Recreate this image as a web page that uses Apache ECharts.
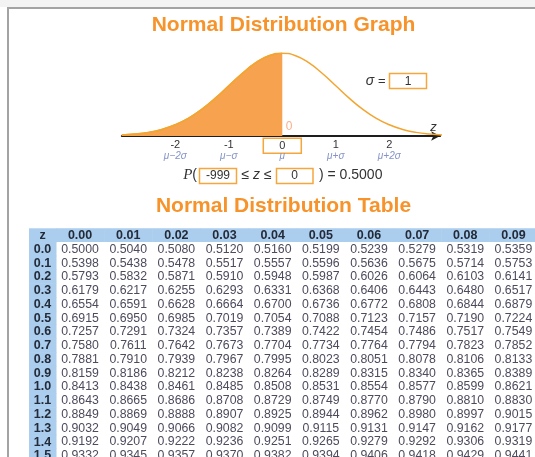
<!DOCTYPE html>
<html>
<head>
<meta charset="utf-8">
<script src="https://cdn.jsdelivr.net/npm/echarts@6/dist/echarts.min.js"></script>
<style>
  html, body { margin: 0; padding: 0; background: #fff; overflow: hidden; }
  #chart { width: 540px; height: 470px; }
</style>
</head>
<body>
<div id="chart"></div>
<script>
// curve of the graph
const curveZ = [-3, -2.75, -2.5, -2.25, -2, -1.75, -1.5, -1.25, -1, -0.75, -0.5, -0.25, 0,
  0.25, 0.5, 0.75, 1, 1.25, 1.5, 1.75, 2, 2.25, 2.5, 2.75, 3];
const curveDensity = [0.0044, 0.0091, 0.0175, 0.0317, 0.054, 0.0863, 0.1295, 0.1826, 0.242, 0.3011, 0.3521, 0.3867, 0.3989,
  0.3867, 0.3521, 0.3011, 0.242, 0.1826, 0.1295, 0.0863, 0.054, 0.0317, 0.0175, 0.0091, 0.0044];

const tickValues = [-2, -1, 0, 1, 2];
const tickLabels = ['-2', '-1', '0', '1', '2'];
const sigmaLabels = ['μ−2σ', 'μ−σ', 'μ', 'μ+σ', 'μ+2σ'];

const sigmaValue = '1';
const lowerBound = '-999';
const upperBound = '0';
const probability = '0.5000';

// table
const colLabels = ['0.00', '0.01', '0.02', '0.03', '0.04', '0.05', '0.06', '0.07', '0.08', '0.09'];
const rowLabels = ['0.0', '0.1', '0.2', '0.3', '0.4', '0.5', '0.6', '0.7', '0.8', '0.9',
  '1.0', '1.1', '1.2', '1.3', '1.4', '1.5'];
const cdfRows = [
  ['0.5000', '0.5040', '0.5080', '0.5120', '0.5160', '0.5199', '0.5239', '0.5279', '0.5319', '0.5359'],
  ['0.5398', '0.5438', '0.5478', '0.5517', '0.5557', '0.5596', '0.5636', '0.5675', '0.5714', '0.5753'],
  ['0.5793', '0.5832', '0.5871', '0.5910', '0.5948', '0.5987', '0.6026', '0.6064', '0.6103', '0.6141'],
  ['0.6179', '0.6217', '0.6255', '0.6293', '0.6331', '0.6368', '0.6406', '0.6443', '0.6480', '0.6517'],
  ['0.6554', '0.6591', '0.6628', '0.6664', '0.6700', '0.6736', '0.6772', '0.6808', '0.6844', '0.6879'],
  ['0.6915', '0.6950', '0.6985', '0.7019', '0.7054', '0.7088', '0.7123', '0.7157', '0.7190', '0.7224'],
  ['0.7257', '0.7291', '0.7324', '0.7357', '0.7389', '0.7422', '0.7454', '0.7486', '0.7517', '0.7549'],
  ['0.7580', '0.7611', '0.7642', '0.7673', '0.7704', '0.7734', '0.7764', '0.7794', '0.7823', '0.7852'],
  ['0.7881', '0.7910', '0.7939', '0.7967', '0.7995', '0.8023', '0.8051', '0.8078', '0.8106', '0.8133'],
  ['0.8159', '0.8186', '0.8212', '0.8238', '0.8264', '0.8289', '0.8315', '0.8340', '0.8365', '0.8389'],
  ['0.8413', '0.8438', '0.8461', '0.8485', '0.8508', '0.8531', '0.8554', '0.8577', '0.8599', '0.8621'],
  ['0.8643', '0.8665', '0.8686', '0.8708', '0.8729', '0.8749', '0.8770', '0.8790', '0.8810', '0.8830'],
  ['0.8849', '0.8869', '0.8888', '0.8907', '0.8925', '0.8944', '0.8962', '0.8980', '0.8997', '0.9015'],
  ['0.9032', '0.9049', '0.9066', '0.9082', '0.9099', '0.9115', '0.9131', '0.9147', '0.9162', '0.9177'],
  ['0.9192', '0.9207', '0.9222', '0.9236', '0.9251', '0.9265', '0.9279', '0.9292', '0.9306', '0.9319'],
  ['0.9332', '0.9345', '0.9357', '0.9370', '0.9382', '0.9394', '0.9406', '0.9418', '0.9429', '0.9441']
];

const FONT = '"Liberation Sans", Arial, sans-serif';
const ORANGE = '#f7932b';
const CURVE = '#f2a530';
const FILL = '#f7a24f';
const BOX = '#f5a63c';
const BLUE = '#abcdee';
const HEAD_TEXT = '#232b38';
const CELL_TEXT = '#4d4b5c';

const curvePoints = curveZ.map((z, i) => [z, curveDensity[i]]);
const shadedPoints = curvePoints.filter(p => p[0] <= Number(upperBound));

const tableRows = ['z'].concat(rowLabels);
const labelCells = tableRows.map((r, i) => [0, i]);
const valueCells = [];
tableRows.forEach((r, i) => {
  colLabels.forEach((c, k) => valueCells.push([k, i]));
});

function renderLabelCell(params, api) {
  const row = api.value(1);
  const c = api.coord([api.value(0), row]);
  const s = api.size([1, 1]);
  return {
    type: 'group',
    children: [
      { type: 'rect', shape: { x: c[0] - s[0] / 2, y: c[1] - s[1] / 2, width: s[0] + 0.5, height: s[1] + 0.5 },
        style: { fill: BLUE } },
      { type: 'text', x: c[0], y: c[1] + 0.5,
        style: { text: tableRows[row], font: 'bold 12.5px ' + FONT, fill: HEAD_TEXT, align: 'center', verticalAlign: 'middle' } }
    ]
  };
}

function renderValueCell(params, api) {
  const col = api.value(0);
  const row = api.value(1);
  const c = api.coord([col, row]);
  const s = api.size([1, 1]);
  const children = [];
  if (row === 0) {
    children.push({ type: 'rect', shape: { x: c[0] - s[0] / 2, y: c[1] - s[1] / 2, width: s[0] + 0.5, height: s[1] },
      style: { fill: BLUE } });
    children.push({ type: 'text', x: c[0], y: c[1] + 0.5,
      style: { text: colLabels[col], font: 'bold 12.5px ' + FONT, fill: HEAD_TEXT, align: 'center', verticalAlign: 'middle' } });
  } else {
    children.push({ type: 'text', x: c[0], y: c[1] + 0.5,
      style: { text: cdfRows[row - 1][col], font: '12.3px ' + FONT, fill: CELL_TEXT, align: 'center', verticalAlign: 'middle' } });
  }
  return { type: 'group', children: children };
}

function tickFormatter(value) {
  const i = tickValues.indexOf(value);
  if (i < 0) return '';
  if (value === 0) return '{box|' + tickLabels[i] + '}\n{m0|' + sigmaLabels[i] + '}';
  return '{a|' + tickLabels[i] + '}\n{b|' + sigmaLabels[i] + '}';
}

const chart = echarts.init(document.getElementById('chart'));

const option = {
  animation: false,
  backgroundColor: '#fff',
  grid: [
    { left: 121.8, top: 53, width: 318.3, height: 83, outerBoundsMode: 'none' },
    { left: 29, top: 228.3, width: 27, height: 233.9, outerBoundsMode: 'none' },
    { left: 56, top: 228.3, width: 481.5, height: 233.9, outerBoundsMode: 'none' }
  ],
  xAxis: [
    {
      gridIndex: 0, type: 'value', min: -3, max: 2.95, interval: 1,
      axisLine: { show: true, symbol: ['none', 'arrow'], symbolSize: [7, 9], lineStyle: { color: '#1e1e1e', width: 2 } },
      axisTick: { show: false },
      splitLine: { show: false },
      axisLabel: {
        margin: 2.3,
        showMinLabel: true,
        showMaxLabel: false,
        formatter: tickFormatter,
        rich: {
          a: { fontFamily: FONT, fontSize: 11, color: '#333', lineHeight: 13, align: 'center' },
          b: { fontFamily: FONT, fontSize: 10, fontStyle: 'italic', color: '#8494c8', lineHeight: 10, align: 'center' },
          box: { fontFamily: FONT, fontSize: 11, color: '#333', width: 38, height: 15, lineHeight: 15, align: 'center',
            borderColor: BOX, borderWidth: 1.5 },
          m0: { fontFamily: FONT, fontSize: 10, fontStyle: 'italic', color: '#8494c8', lineHeight: 6, align: 'center' }
        }
      }
    },
    { gridIndex: 1, type: 'category', data: ['z'], show: false },
    { gridIndex: 2, type: 'category', data: colLabels, show: false }
  ],
  yAxis: [
    { gridIndex: 0, type: 'value', min: 0, max: 0.4, show: false },
    { gridIndex: 1, type: 'category', data: tableRows, inverse: true, show: false },
    { gridIndex: 2, type: 'category', data: tableRows, inverse: true, show: false }
  ],
  series: [
    {
      type: 'line', xAxisIndex: 0, yAxisIndex: 0,
      data: shadedPoints, smooth: true, showSymbol: false,
      lineStyle: { color: CURVE, width: 1.5 },
      areaStyle: { color: FILL, opacity: 1 },
      markPoint: {
        symbol: 'circle', symbolSize: 1, itemStyle: { color: 'rgba(0,0,0,0)' },
        data: [{ coord: [Number(upperBound), 0] }],
        label: { show: true, position: 'right', distance: 3, offset: [0, -9], formatter: () => upperBound,
          color: '#f8b08a', fontSize: 12, fontFamily: FONT }
      }
    },
    {
      type: 'line', xAxisIndex: 0, yAxisIndex: 0,
      data: curvePoints, smooth: true, showSymbol: false,
      lineStyle: { color: CURVE, width: 1.5 }
    },
    {
      type: 'custom', xAxisIndex: 1, yAxisIndex: 1,
      data: labelCells, renderItem: renderLabelCell
    },
    {
      type: 'custom', xAxisIndex: 2, yAxisIndex: 2,
      data: valueCells, renderItem: renderValueCell
    }
  ],
  graphic: [
    // page frame
    { type: 'rect', shape: { x: 0, y: 0, width: 540, height: 7 }, style: { fill: '#f3f3f3' }, silent: true },
    { type: 'polyline', shape: { points: [[8, 470], [8, 8], [540, 8]] }, style: { stroke: '#a3a3a3', lineWidth: 2, fill: null } },
    // titles
    { type: 'text', x: 283.5, y: 25.5,
      style: { text: 'Normal Distribution Graph', font: 'bold 21px ' + FONT, fill: ORANGE, align: 'center', verticalAlign: 'middle' } },
    { type: 'text', x: 283.5, y: 206.5,
      style: { text: 'Normal Distribution Table', font: 'bold 21px ' + FONT, fill: ORANGE, align: 'center', verticalAlign: 'middle' } },
    // axis letter
    { type: 'text', x: 433.5, y: 127.5,
      style: { text: 'z', font: 'italic 13px ' + FONT, fill: '#333', align: 'center', verticalAlign: 'middle' } },
    // sigma box
    { type: 'text', x: 385.5, y: 81,
      style: { text: '{i|σ} =', font: '13px ' + FONT, fill: '#333', align: 'right', verticalAlign: 'middle',
        rich: { i: { fontStyle: 'italic', fontSize: 14, fontFamily: FONT } } } },
    { type: 'rect', shape: { x: 389.5, y: 73.5, width: 37, height: 15 }, style: { fill: '#fff', stroke: BOX, lineWidth: 1.5 } },
    { type: 'text', x: 408, y: 81.5,
      style: { text: sigmaValue, font: '12px ' + FONT, fill: '#333', align: 'center', verticalAlign: 'middle' } },
    // probability line
    { type: 'text', x: 197, y: 175.5,
      style: { text: '{p|P}(', font: '14px ' + FONT, fill: '#333', align: 'right', verticalAlign: 'middle',
        rich: { p: { fontStyle: 'italic', fontSize: 15, fontFamily: '"Liberation Serif", serif' } } } },
    { type: 'rect', shape: { x: 199.5, y: 168.5, width: 37, height: 15 }, style: { fill: '#fff', stroke: BOX, lineWidth: 1.5 } },
    { type: 'text', x: 218, y: 176,
      style: { text: lowerBound, font: '12px ' + FONT, fill: '#333', align: 'center', verticalAlign: 'middle' } },
    { type: 'text', x: 256.5, y: 175.5,
      style: { text: '≤ {i|z} ≤', font: '14px ' + FONT, fill: '#333', align: 'center', verticalAlign: 'middle',
        rich: { i: { fontStyle: 'italic', fontSize: 14, fontFamily: FONT } } } },
    { type: 'rect', shape: { x: 276.5, y: 168.5, width: 36.5, height: 15 }, style: { fill: '#fff', stroke: BOX, lineWidth: 1.5 } },
    { type: 'text', x: 294.5, y: 176,
      style: { text: upperBound, font: '12px ' + FONT, fill: '#333', align: 'center', verticalAlign: 'middle' } },
    { type: 'text', x: 319, y: 175.5,
      style: { text: ') = ' + probability, font: '14px ' + FONT, fill: '#333', align: 'left', verticalAlign: 'middle' } }
  ]
};

chart.setOption(option);
</script>
</body>
</html>
